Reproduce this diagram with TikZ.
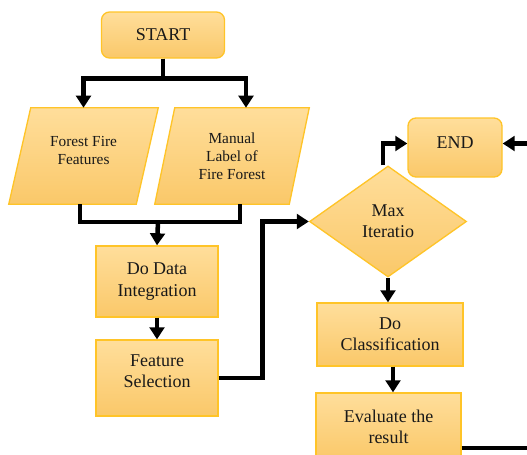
\documentclass[tikz,border=0pt]{standalone}
\usepackage{fontspec}
\setmainfont{Liberation Serif}
\usetikzlibrary{arrows.meta,shapes.geometric,backgrounds,calc}
\definecolor{topc}{RGB}{255,222,155}
\definecolor{botc}{RGB}{250,200,105}
\definecolor{edgec}{RGB}{255,196,40}
\definecolor{txt}{RGB}{25,25,25}
\begin{document}
\begin{tikzpicture}[x=0.75pt,y=-0.75pt,
 box/.style={top color=topc,bottom color=botc,draw=edgec,line width=1pt},
 big/.style={align=center,font=\fontsize{13.5}{16}\selectfont,text=txt},
 small/.style={align=center,font=\fontsize{11.5}{13.5}\selectfont,text=txt},
 proc/.style={box,rectangle,inner sep=0pt,big},
 term/.style={proc,rounded corners=6pt},
 dec/.style={box,diamond,inner sep=0pt,big},
 io/.style={rectangle,inner sep=0pt,small},
 arr/.style={line width=3.4pt,-{Triangle[width=11pt,length=9pt]}},
 ln/.style={line width=3.4pt}]
\useasboundingbox (0,0) rectangle (527,454);

\node[term,minimum width=92.25pt,minimum height=34.5pt] (start) at (163,35) {START};
\node[io,minimum width=111.75pt,minimum height=72pt,label={[small,yshift=4.5pt]center:Forest Fire\\Features}] (ff) at (83.5,156) {};
\node[io,minimum width=115.5pt,minimum height=72pt] (mf) at (232,156) {Manual\\Label of\\Fire Forest};
\node[proc,minimum width=91.5pt,minimum height=53.25pt] (di) at (157,281.5) {Do Data\\Integration};
\node[proc,minimum width=91.5pt,minimum height=57pt,label={[big,yshift=5pt]center:Feature\\Selection}] (fs) at (157,378) {};
\node[dec,minimum width=117.75pt,minimum height=83.25pt] (dia) at (388,221.5) {Max\\Iteratio};
\node[term,minimum width=70.5pt,minimum height=44.25pt,label={[big,yshift=3.5pt]center:END}] (end) at (455,147.5) {};
\node[proc,minimum width=109.5pt,minimum height=47.25pt] (dc) at (390,334.5) {Do\\Classification};
\node[proc,minimum width=108.75pt,minimum height=50.25pt] (ev) at (388.5,426.5) {Evaluate the\\result};

\begin{scope}[on background layer]
\draw[box] ($(ff.north west)+(22,0)$) -- (ff.north east) -- ($(ff.south east)+(-22,0)$) -- (ff.south west) -- cycle;
\draw[box] ($(mf.north west)+(20,0)$) -- (mf.north east) -- ($(mf.south east)+(-20,0)$) -- (mf.south west) -- cycle;
\end{scope}

\draw[arr] (start.south) -- ++(0,20) -| (ff.north);
\draw[arr] (start.south) -- ++(0,20) -| ([xshift=10.5pt]mf.north);
\coordinate (j) at (158,222);
\draw[ln] ([xshift=-2.6pt]ff.south) |- (j) -| ([xshift=6pt]mf.south);
\draw[arr] (j) -- (di.north);
\draw[arr] (di.south) -- (fs.north);
\draw[arr] (fs.east) -- ++(44,0) |- (dia.west);
\draw[arr] ([xshift=-3.75pt]dia.north) |- ([yshift=3pt]end.west);
\draw[arr] (dia.south) -- (dia.south |- dc.north);
\draw[arr] ([xshift=2.25pt]dc.south) -- ([xshift=2.25pt]dc.south |- ev.north);
\draw[arr] ([yshift=-16pt]ev.east) -- ++(69,0) |- ([yshift=3pt]end.east);
\end{tikzpicture}
\end{document}
